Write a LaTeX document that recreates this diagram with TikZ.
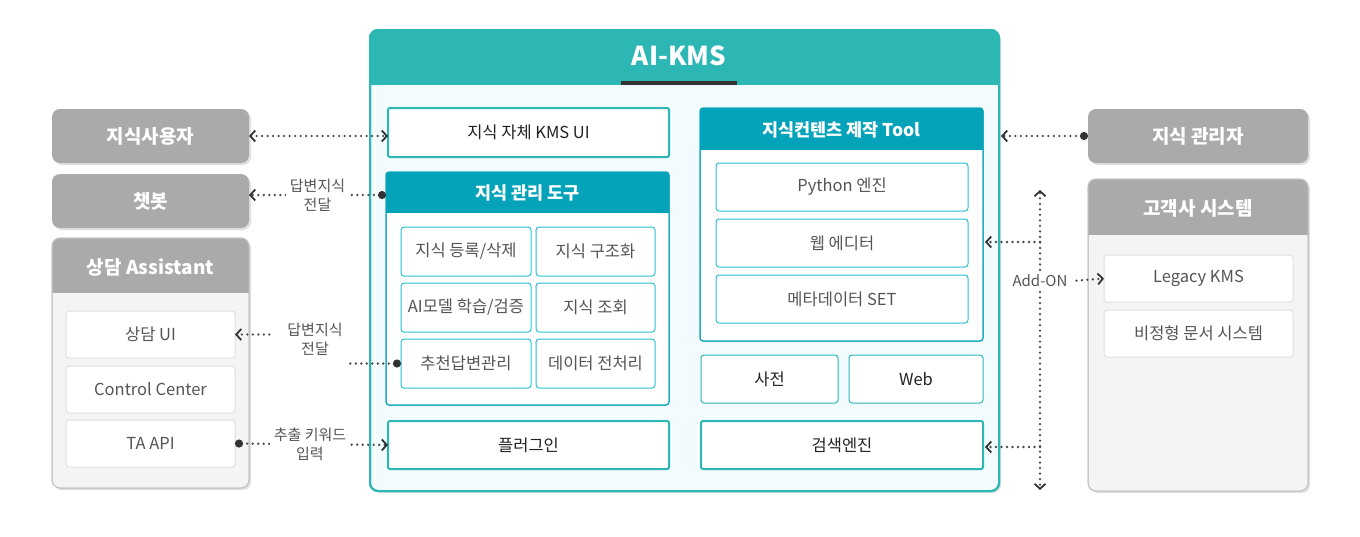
\documentclass[tikz,border=0pt]{standalone}
\usepackage{fontspec}
\setmainfont{Noto Sans CJK KR}
\usetikzlibrary{arrows.meta,shadows,calc}
\definecolor{cgray}{HTML}{AAAAAA}
\definecolor{cgraybody}{HTML}{F4F4F4}
\definecolor{cgrayline}{HTML}{C4C4C4}
\definecolor{ccellgray}{HTML}{E0E0E0}
\definecolor{cteal}{HTML}{2CB7B5}
\definecolor{ccyan}{HTML}{05A3BA}
\definecolor{ccell}{HTML}{2BC0D5}
\definecolor{cbody}{HTML}{F2FBFD}
\definecolor{ctext}{HTML}{222222}
\definecolor{ctextb}{HTML}{555555}
\definecolor{cdot}{HTML}{4A4A4A}
\definecolor{ctip}{HTML}{333333}
\definecolor{cbar}{HTML}{333333}
\begin{document}
\begin{tikzpicture}[x=1pt,y=-1pt,
  every node/.style={inner sep=0pt, outer sep=0pt},
  graybox/.style={rectangle, rounded corners=8pt, fill=cgray, font=\fontsize{19}{23}\selectfont\bfseries, text=white},
  grouptitle/.style={font=\fontsize{19}{23}\selectfont\bfseries, text=white},
  cyantitle/.style={font=\fontsize{17.5}{21}\selectfont\bfseries, text=white},
  tbox/.style={rectangle, draw=cteal, line width=2pt, fill=white, rounded corners=2pt, font=\fontsize{16.5}{20}\selectfont, text=ctext},
  pbox/.style={rectangle, draw=cteal, line width=1pt, fill=white, rounded corners=3pt, font=\fontsize{16.5}{20}\selectfont, text=ctext},
  cellbox/.style={rectangle, draw=ccell, line width=1pt, fill=white, rounded corners=3pt, font=\fontsize{16.5}{20}\selectfont, text=ctextb},
  gcell/.style={rectangle, draw=ccellgray, line width=1pt, fill=white, rounded corners=3pt, font=\fontsize{16.5}{20}\selectfont, text=ctextb},
  lbl/.style={fill=white, inner xsep=4pt, inner ysep=2pt, align=center, font=\fontsize{15}{19}\selectfont, text=ctextb},
  dotline/.style={draw=cdot, line width=2.6pt, line cap=round, dash pattern=on 0pt off 5.5pt},
  tipend/.style={-{Straight Barb[length=5pt,width=11pt,line width=1.8pt,color=ctip]}},
  tipboth/.style={{Straight Barb[length=5pt,width=11pt,line width=1.8pt,color=ctip]}-{Straight Barb[length=5pt,width=11pt,line width=1.8pt,color=ctip]}},
  dotstart/.style={{Circle[length=8pt,color=ctip]}-},
  dottip/.style={{Circle[length=8pt,color=ctip]}-{Straight Barb[length=5pt,width=11pt,line width=1.8pt,color=ctip]}},
  shadowed/.style={drop shadow={shadow xshift=2pt,shadow yshift=-2pt,opacity=0.12,fill=black}}
]
\useasboundingbox (0,0) rectangle (1360,536);

% ---------- left side ----------
\node[graybox, shadowed, minimum width=197pt, minimum height=54pt] (user) at (150.5,136) {지식사용자};
\node[graybox, shadowed, minimum width=197pt, minimum height=54pt] (chat) at (150.5,201) {챗봇};

\node[rectangle, draw=cgrayline, line width=1pt, fill=cgraybody, rounded corners=8pt, shadowed,
      minimum width=197pt, minimum height=250pt] (asst) at (150.5,363) {};
\begin{scope}
  \clip[rounded corners=8pt] (asst.north west) rectangle (asst.south east);
  \fill[cgray] (asst.north west) rectangle (asst.east |- 0,293);
\end{scope}
\draw[cgrayline, line width=1pt, rounded corners=8pt] (asst.north west) rectangle (asst.south east);
\node[grouptitle] (asstt) at (150.5,267) {상담 Assistant};
\node[gcell, minimum width=169pt, minimum height=47pt] (ui) at (150.5,334.5) {상담 UI};
\node[gcell, minimum width=169pt, minimum height=47pt] (cc) at (150.5,389.5) {Control Center};
\node[gcell, minimum width=169pt, minimum height=47pt] (taapi) at (150.5,443.5) {TA API};

% ---------- AI-KMS ----------
\node[rectangle, draw=cteal, line width=2pt, fill=cbody, rounded corners=8pt, shadowed,
      minimum width=629pt, minimum height=461pt] (kms) at (684.5,260.5) {};
\begin{scope}
  \clip[rounded corners=8pt] (kms.north west) rectangle (kms.south east);
  \fill[cteal] (kms.north west) rectangle (kms.east |- 0,85);
\end{scope}
\draw[cteal, line width=2pt, rounded corners=8pt] (kms.north west) rectangle (kms.south east);
\node[font=\fontsize{26}{30}\selectfont\bfseries, text=white] (kmst) at (679,56) {AI-KMS};
\fill[cbar] (621,81) rectangle (737,85);

\node[tbox, minimum width=281pt, minimum height=49pt] (kmsui) at (528.5,132.5) {지식 자체 KMS UI};

% 지식 관리 도구
\node[rectangle, draw=ccyan, line width=1pt, fill=white, rounded corners=3pt,
      minimum width=283pt, minimum height=233pt] (mgmt) at (527.5,288.5) {};
\begin{scope}
  \clip[rounded corners=3pt] (mgmt.north west) rectangle (mgmt.south east);
  \fill[ccyan] (mgmt.north west) rectangle (mgmt.east |- 0,213);
\end{scope}
\draw[ccyan, line width=1pt, rounded corners=3pt] (mgmt.north west) rectangle (mgmt.south east);
\node[cyantitle] (mgmtt) at (527.5,193) {지식 관리 도구};
\node[cellbox, minimum width=130pt, minimum height=49pt] (reg) at (466,251.5) {지식 등록/삭제};
\node[cellbox, minimum width=119pt, minimum height=49pt] (struct) at (595.5,251.5) {지식 구조화};
\node[cellbox, minimum width=130pt, minimum height=49pt] (aim) at (466,307.5) {AI모델 학습/검증};
\node[cellbox, minimum width=119pt, minimum height=49pt] (query) at (595.5,307.5) {지식 조회};
\node[cellbox, minimum width=130pt, minimum height=49pt] (rec) at (466,363.5) {추천답변관리};
\node[cellbox, minimum width=119pt, minimum height=49pt] (prep) at (595.5,363.5) {데이터 전처리};

\node[tbox, minimum width=281pt, minimum height=48pt] (plugin) at (528.5,445) {플러그인};

% 지식컨텐츠 제작 Tool
\node[rectangle, draw=ccyan, line width=1pt, fill=white, rounded corners=3pt,
      minimum width=283pt, minimum height=233pt] (tool) at (841.5,224.5) {};
\begin{scope}
  \clip[rounded corners=3pt] (tool.north west) rectangle (tool.south east);
  \fill[ccyan] (tool.north west) rectangle (tool.east |- 0,150);
\end{scope}
\draw[ccyan, line width=1pt, rounded corners=3pt] (tool.north west) rectangle (tool.south east);
\node[cyantitle] (toolt) at (841.5,130) {지식컨텐츠 제작 Tool};
\node[cellbox, minimum width=252pt, minimum height=48pt] (python) at (842,187) {Python 엔진};
\node[cellbox, minimum width=252pt, minimum height=48pt] (webed) at (842,243) {웹 에디터};
\node[cellbox, minimum width=252pt, minimum height=48pt] (meta) at (842,299) {메타데이터 SET};

\node[pbox, minimum width=137pt, minimum height=48pt] (dict) at (769.5,379) {사전};
\node[pbox, minimum width=134pt, minimum height=48pt] (web) at (916,379) {Web};
\node[tbox, minimum width=282pt, minimum height=48pt] (search) at (842,445) {검색엔진};

% ---------- right side ----------
\node[graybox, shadowed, minimum width=220pt, minimum height=54pt] (admin) at (1198,136) {지식 관리자};

\node[rectangle, draw=cgrayline, line width=1pt, fill=cgraybody, rounded corners=8pt, shadowed,
      minimum width=220pt, minimum height=312pt] (cust) at (1198,335) {};
\begin{scope}
  \clip[rounded corners=8pt] (cust.north west) rectangle (cust.south east);
  \fill[cgray] (cust.north west) rectangle (cust.east |- 0,235);
\end{scope}
\draw[cgrayline, line width=1pt, rounded corners=8pt] (cust.north west) rectangle (cust.south east);
\node[grouptitle] (custt) at (1198,208) {고객사 시스템};
\node[gcell, minimum width=189pt, minimum height=47pt] (legacy) at (1198.5,278.5) {Legacy KMS};
\node[gcell, minimum width=189pt, minimum height=47pt] (unstr) at (1198.5,333.5) {비정형 문서 시스템};

% ---------- connectors ----------
\draw[dotline, tipboth] (user.east) -- (user.east -| kmsui.west);

\draw[dotline, dottip] ([yshift=-23pt]mgmt.north west) -- ([yshift=-23pt]mgmt.north west -| chat.east)
  node[lbl, midway] (l1) {답변지식\\전달};

\node[lbl] (l2) at (315,339) {답변지식\\전달};
\draw[dotline, dotstart] (rec.west) -- (l2.east |- rec.west);
\draw[dotline, tipend] ([xshift=-14pt]l2.west |- ui.east) -- (ui.east);

\draw[dotline, dottip] (taapi.east) -- (plugin.west)
  node[lbl, pos=0.49] (l3) {추출 키워드\\입력};

\draw[dotline, dottip] (admin.west) -- ([xshift=2pt]admin.west -| kms.east);

\node[lbl, inner ysep=5pt] (addon) at (1040,281) {Add-ON};
\coordinate (vtop) at (1040,190);
\coordinate (vbot) at (1040,490);
\coordinate (vweb) at (1040,242);
\coordinate (vsrch) at (1040,447);
\draw[dotline, tipend] (addon.north) -- (vtop);
\draw[dotline, tipend] (addon.south) -- (vbot);
\draw[dotline, tipend] (vweb) -- ([xshift=2pt]vweb -| tool.east);
\draw[dotline, tipend] (vsrch) -- ([xshift=2pt]vsrch -| search.east);
\draw[dotline, tipend, shorten <=5pt] (addon.east) -- (legacy.west);
\end{tikzpicture}
\end{document}
